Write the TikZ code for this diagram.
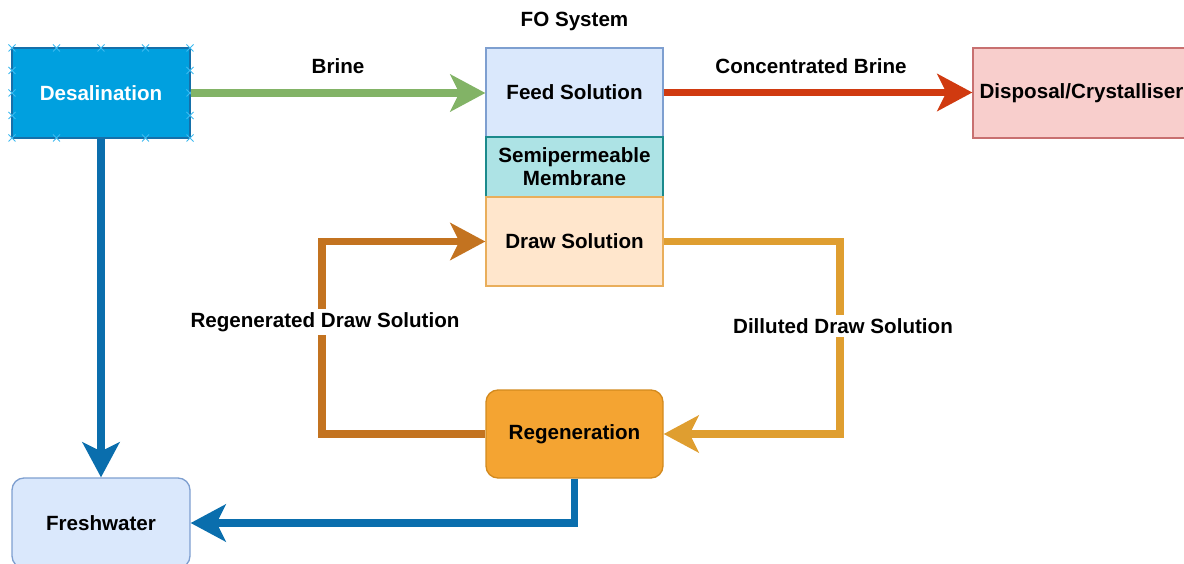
\documentclass[tikz,border=0pt]{standalone}
\usepackage{fontspec}
\setmainfont{Liberation Sans}
\usetikzlibrary{arrows.meta}

\definecolor{desalfill}{HTML}{00A0DF}
\definecolor{desaldraw}{HTML}{1570AA}
\definecolor{handle}{HTML}{3DBAF0}
\definecolor{feedfill}{HTML}{DAE8FC}
\definecolor{feeddraw}{HTML}{7E9FD0}
\definecolor{membfill}{HTML}{ADE3E5}
\definecolor{membdraw}{HTML}{1B8A8C}
\definecolor{drawfill}{HTML}{FFE6CC}
\definecolor{drawdraw}{HTML}{E9AE5B}
\definecolor{dispfill}{HTML}{F8CECC}
\definecolor{dispdraw}{HTML}{C87070}
\definecolor{regenfill}{HTML}{F4A432}
\definecolor{regendraw}{HTML}{D38A1E}
\definecolor{flowgreen}{HTML}{82B366}
\definecolor{flowred}{HTML}{D03A10}
\definecolor{flowblue}{HTML}{0A6EAD}
\definecolor{flowdil}{HTML}{DF9E30}
\definecolor{flowreg}{HTML}{C37320}

\begin{document}
\begin{tikzpicture}[
  x=1pt, y=-1pt,
  font=\fontsize{20.6}{23}\selectfont\bfseries,
  box/.style={draw, line width=1.3pt, minimum width=177pt, minimum height=89pt,
              inner sep=0pt, align=center},
  flow/.style={line width=7.5pt,
               -{Stealth[length=35pt, width=37pt, inset=9pt]}},
  flowlabel/.style={fill=white, inner xsep=1pt, inner ysep=3pt},
]
\useasboundingbox (0,0) rectangle (1184,564);

% process boxes
\node[box, fill=desalfill, draw=desaldraw, text=white, minimum width=178pt,
      minimum height=90pt] (desal) at (101,93) {Desalination};
\node[box, fill=feedfill, draw=feeddraw] (feed) at (574.5,92.5) {Feed Solution};
\node[box, fill=membfill, draw=membdraw, minimum height=60pt] (memb)
      at (574.5,167) {Semipermeable\\Membrane};
\node[box, fill=drawfill, draw=drawdraw] (drawsol) at (574.5,241.5) {Draw Solution};
\node[box, fill=dispfill, draw=dispdraw, minimum width=217pt, minimum height=90pt]
      (disp) at (1081.5,93) {Disposal/Crystalliser};
\node[box, fill=regenfill, draw=regendraw, rounded corners=12pt, minimum height=88pt]
      (regen) at (574.5,434) {Regeneration};
\node[box, fill=feedfill, draw=feeddraw, rounded corners=12pt, minimum width=178pt,
      minimum height=90pt] (fresh) at (101,523) {Freshwater};

\node (fo) at (574.5,21) {FO System};

% selection handles round the desalination box
\foreach \hx/\hy in {12/48, 56.5/48, 101/48, 145.5/48, 190/48,
                     12/138, 56.5/138, 145.5/138, 190/138,
                     12/70.5, 12/93, 12/115.5, 190/70.5, 190/93, 190/115.5}
  \draw[handle, line width=1pt] (\hx-3.5,\hy-3.5) -- (\hx+3.5,\hy+3.5)
                                (\hx-3.5,\hy+3.5) -- (\hx+3.5,\hy-3.5);

% bend points of the draw solution loop
\coordinate (dilbend) at (840,241.5);
\coordinate (regbend) at (322,241.5);

% flows
\draw[flow, flowgreen] (desal.east) -- (desal.east -| feed.west);
\draw[flow, flowred] (feed.east) -- (feed.east -| disp.west);
\draw[flow, flowblue] (desal.south) -- (fresh.north);
\draw[flow, flowdil] (drawsol.east) -- (dilbend) |- (regen.east);
\draw[flow, flowreg] (regen.west) -| (regbend) -- (drawsol.west);
\draw[flow, flowblue] (regen.south) |- (fresh.east);

% flow labels
\node (brine) at (338,66) {Brine};
\node (conc) at (811,66) {Concentrated Brine};
\node[flowlabel] (reglab) at (325,322) {Regenerated Draw Solution};
\node[flowlabel] (dillab) at (843,326) {Dilluted Draw Solution};
\end{tikzpicture}
\end{document}
